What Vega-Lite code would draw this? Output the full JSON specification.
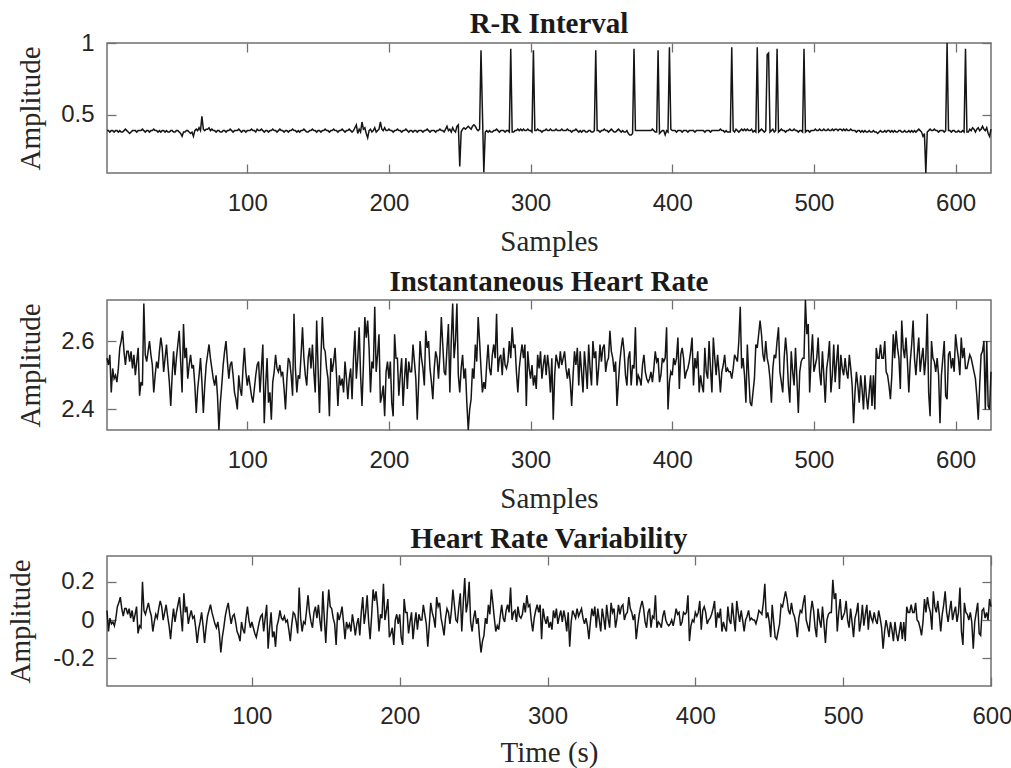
{"$schema":"https://vega.github.io/schema/vega-lite/v6.json","background":"white","padding":{"left":5,"top":9,"right":0,"bottom":0},"spacing":10,
"config":{"view":{"stroke":"#707070","strokeWidth":1.5},
"axis":{"domain":false,"grid":false,"tickSize":-9,"tickColor":"#707070","tickWidth":1.3,"labelFont":"Liberation Sans","labelFontSize":24,"labelColor":"#262626","titleFont":"Liberation Serif","titleFontSize":29,"titleFontWeight":"normal","titleColor":"#262626"},
"axisX":{"labelPadding":27,"titleY":77,"titleBaseline":"alphabetic","labelFlush":1,"labelFlushOffset":21},
"axisY":{"labelPadding":22,"labelExpr":"''+datum.value"},
"title":{"font":"Liberation Serif","fontSize":29,"fontWeight":"bold","color":"#1a1a1a","baseline":"alphabetic","anchor":"middle"},
"line":{"color":"#151515","strokeWidth":1.5,"clip":true}},
"datasets":{
"rr":[{"x":1,"y":0.39},{"x":2,"y":0.39},{"x":3,"y":0.38},{"x":4,"y":0.39},{"x":5,"y":0.39},{"x":6,"y":0.38},{"x":7,"y":0.39},{"x":8,"y":0.39},{"x":9,"y":0.38},{"x":10,"y":0.39},{"x":11,"y":0.38},{"x":12,"y":0.38},{"x":13,"y":0.39},{"x":14,"y":0.40},{"x":15,"y":0.39},{"x":16,"y":0.38},{"x":17,"y":0.37},{"x":18,"y":0.38},{"x":19,"y":0.39},{"x":20,"y":0.39},{"x":21,"y":0.39},{"x":22,"y":0.38},{"x":23,"y":0.39},{"x":24,"y":0.39},{"x":25,"y":0.39},{"x":26,"y":0.40},{"x":27,"y":0.39},{"x":28,"y":0.38},{"x":29,"y":0.39},{"x":30,"y":0.39},{"x":31,"y":0.38},{"x":32,"y":0.39},{"x":33,"y":0.39},{"x":34,"y":0.40},{"x":35,"y":0.39},{"x":36,"y":0.39},{"x":37,"y":0.38},{"x":38,"y":0.39},{"x":39,"y":0.38},{"x":40,"y":0.39},{"x":41,"y":0.39},{"x":42,"y":0.38},{"x":43,"y":0.39},{"x":44,"y":0.38},{"x":45,"y":0.38},{"x":46,"y":0.39},{"x":47,"y":0.39},{"x":48,"y":0.38},{"x":49,"y":0.38},{"x":50,"y":0.39},{"x":51,"y":0.39},{"x":52,"y":0.38},{"x":53,"y":0.37},{"x":54,"y":0.35},{"x":55,"y":0.38},{"x":56,"y":0.38},{"x":57,"y":0.39},{"x":58,"y":0.39},{"x":59,"y":0.38},{"x":60,"y":0.37},{"x":61,"y":0.38},{"x":62,"y":0.35},{"x":63,"y":0.39},{"x":64,"y":0.40},{"x":65,"y":0.39},{"x":66,"y":0.41},{"x":67,"y":0.39},{"x":68,"y":0.49},{"x":69,"y":0.40},{"x":70,"y":0.39},{"x":71,"y":0.40},{"x":72,"y":0.40},{"x":73,"y":0.41},{"x":74,"y":0.39},{"x":75,"y":0.40},{"x":76,"y":0.39},{"x":77,"y":0.39},{"x":78,"y":0.38},{"x":79,"y":0.39},{"x":80,"y":0.39},{"x":81,"y":0.38},{"x":82,"y":0.38},{"x":83,"y":0.39},{"x":84,"y":0.39},{"x":85,"y":0.38},{"x":86,"y":0.39},{"x":87,"y":0.39},{"x":88,"y":0.40},{"x":89,"y":0.39},{"x":90,"y":0.38},{"x":91,"y":0.39},{"x":92,"y":0.39},{"x":93,"y":0.39},{"x":94,"y":0.40},{"x":95,"y":0.39},{"x":96,"y":0.38},{"x":97,"y":0.39},{"x":98,"y":0.39},{"x":99,"y":0.38},{"x":100,"y":0.39},{"x":101,"y":0.39},{"x":102,"y":0.39},{"x":103,"y":0.40},{"x":104,"y":0.39},{"x":105,"y":0.39},{"x":106,"y":0.38},{"x":107,"y":0.40},{"x":108,"y":0.39},{"x":109,"y":0.39},{"x":110,"y":0.40},{"x":111,"y":0.39},{"x":112,"y":0.38},{"x":113,"y":0.39},{"x":114,"y":0.39},{"x":115,"y":0.38},{"x":116,"y":0.39},{"x":117,"y":0.39},{"x":118,"y":0.40},{"x":119,"y":0.39},{"x":120,"y":0.39},{"x":121,"y":0.38},{"x":122,"y":0.39},{"x":123,"y":0.40},{"x":124,"y":0.39},{"x":125,"y":0.39},{"x":126,"y":0.38},{"x":127,"y":0.39},{"x":128,"y":0.39},{"x":129,"y":0.38},{"x":130,"y":0.39},{"x":131,"y":0.39},{"x":132,"y":0.40},{"x":133,"y":0.39},{"x":134,"y":0.39},{"x":135,"y":0.38},{"x":136,"y":0.39},{"x":137,"y":0.38},{"x":138,"y":0.39},{"x":139,"y":0.39},{"x":140,"y":0.40},{"x":141,"y":0.39},{"x":142,"y":0.38},{"x":143,"y":0.38},{"x":144,"y":0.39},{"x":145,"y":0.39},{"x":146,"y":0.40},{"x":147,"y":0.39},{"x":148,"y":0.39},{"x":149,"y":0.38},{"x":150,"y":0.39},{"x":151,"y":0.39},{"x":152,"y":0.38},{"x":153,"y":0.39},{"x":154,"y":0.39},{"x":155,"y":0.40},{"x":156,"y":0.39},{"x":157,"y":0.39},{"x":158,"y":0.38},{"x":159,"y":0.39},{"x":160,"y":0.39},{"x":161,"y":0.40},{"x":162,"y":0.39},{"x":163,"y":0.39},{"x":164,"y":0.38},{"x":165,"y":0.39},{"x":166,"y":0.39},{"x":167,"y":0.40},{"x":168,"y":0.39},{"x":169,"y":0.38},{"x":170,"y":0.39},{"x":171,"y":0.39},{"x":172,"y":0.40},{"x":173,"y":0.39},{"x":174,"y":0.38},{"x":175,"y":0.39},{"x":176,"y":0.41},{"x":177,"y":0.43},{"x":178,"y":0.37},{"x":179,"y":0.40},{"x":180,"y":0.38},{"x":181,"y":0.45},{"x":182,"y":0.40},{"x":183,"y":0.41},{"x":184,"y":0.37},{"x":185,"y":0.34},{"x":186,"y":0.39},{"x":187,"y":0.40},{"x":188,"y":0.38},{"x":189,"y":0.39},{"x":190,"y":0.41},{"x":191,"y":0.38},{"x":192,"y":0.39},{"x":193,"y":0.40},{"x":194,"y":0.45},{"x":195,"y":0.40},{"x":196,"y":0.39},{"x":197,"y":0.41},{"x":198,"y":0.39},{"x":199,"y":0.39},{"x":200,"y":0.40},{"x":201,"y":0.39},{"x":202,"y":0.39},{"x":203,"y":0.38},{"x":204,"y":0.39},{"x":205,"y":0.39},{"x":206,"y":0.40},{"x":207,"y":0.39},{"x":208,"y":0.39},{"x":209,"y":0.38},{"x":210,"y":0.39},{"x":211,"y":0.39},{"x":212,"y":0.40},{"x":213,"y":0.39},{"x":214,"y":0.38},{"x":215,"y":0.39},{"x":216,"y":0.39},{"x":217,"y":0.38},{"x":218,"y":0.39},{"x":219,"y":0.39},{"x":220,"y":0.38},{"x":221,"y":0.39},{"x":222,"y":0.39},{"x":223,"y":0.39},{"x":224,"y":0.38},{"x":225,"y":0.39},{"x":226,"y":0.39},{"x":227,"y":0.40},{"x":228,"y":0.39},{"x":229,"y":0.38},{"x":230,"y":0.39},{"x":231,"y":0.39},{"x":232,"y":0.39},{"x":233,"y":0.38},{"x":234,"y":0.39},{"x":235,"y":0.39},{"x":236,"y":0.40},{"x":237,"y":0.39},{"x":238,"y":0.39},{"x":239,"y":0.38},{"x":240,"y":0.40},{"x":241,"y":0.42},{"x":242,"y":0.39},{"x":243,"y":0.40},{"x":244,"y":0.38},{"x":245,"y":0.41},{"x":246,"y":0.39},{"x":247,"y":0.38},{"x":248,"y":0.42},{"x":249,"y":0.43},{"x":250,"y":0.14},{"x":251,"y":0.38},{"x":252,"y":0.40},{"x":253,"y":0.41},{"x":254,"y":0.40},{"x":255,"y":0.41},{"x":256,"y":0.42},{"x":257,"y":0.41},{"x":258,"y":0.40},{"x":259,"y":0.42},{"x":260,"y":0.43},{"x":261,"y":0.42},{"x":262,"y":0.40},{"x":263,"y":0.39},{"x":264,"y":0.40},{"x":265,"y":0.95},{"x":266,"y":0.52},{"x":267,"y":0.1},{"x":268,"y":0.38},{"x":269,"y":0.39},{"x":270,"y":0.38},{"x":271,"y":0.39},{"x":272,"y":0.38},{"x":273,"y":0.38},{"x":274,"y":0.39},{"x":275,"y":0.39},{"x":276,"y":0.40},{"x":277,"y":0.39},{"x":278,"y":0.38},{"x":279,"y":0.39},{"x":280,"y":0.39},{"x":281,"y":0.39},{"x":282,"y":0.38},{"x":283,"y":0.39},{"x":284,"y":0.39},{"x":285,"y":0.38},{"x":286,"y":0.96},{"x":287,"y":0.38},{"x":288,"y":0.38},{"x":289,"y":0.39},{"x":290,"y":0.39},{"x":291,"y":0.40},{"x":292,"y":0.39},{"x":293,"y":0.40},{"x":294,"y":0.39},{"x":295,"y":0.40},{"x":296,"y":0.39},{"x":297,"y":0.39},{"x":298,"y":0.40},{"x":299,"y":0.39},{"x":300,"y":0.39},{"x":301,"y":0.38},{"x":302,"y":0.95},{"x":303,"y":0.39},{"x":304,"y":0.39},{"x":305,"y":0.40},{"x":306,"y":0.39},{"x":307,"y":0.39},{"x":308,"y":0.38},{"x":309,"y":0.39},{"x":310,"y":0.39},{"x":311,"y":0.40},{"x":312,"y":0.39},{"x":313,"y":0.39},{"x":314,"y":0.40},{"x":315,"y":0.39},{"x":316,"y":0.39},{"x":317,"y":0.39},{"x":318,"y":0.40},{"x":319,"y":0.39},{"x":320,"y":0.39},{"x":321,"y":0.39},{"x":322,"y":0.40},{"x":323,"y":0.39},{"x":324,"y":0.39},{"x":325,"y":0.39},{"x":326,"y":0.40},{"x":327,"y":0.39},{"x":328,"y":0.39},{"x":329,"y":0.38},{"x":330,"y":0.39},{"x":331,"y":0.39},{"x":332,"y":0.40},{"x":333,"y":0.39},{"x":334,"y":0.38},{"x":335,"y":0.39},{"x":336,"y":0.38},{"x":337,"y":0.39},{"x":338,"y":0.39},{"x":339,"y":0.38},{"x":340,"y":0.38},{"x":341,"y":0.39},{"x":342,"y":0.39},{"x":343,"y":0.38},{"x":344,"y":0.38},{"x":345,"y":0.39},{"x":346,"y":0.95},{"x":347,"y":0.39},{"x":348,"y":0.39},{"x":349,"y":0.38},{"x":350,"y":0.39},{"x":351,"y":0.39},{"x":352,"y":0.40},{"x":353,"y":0.39},{"x":354,"y":0.39},{"x":355,"y":0.38},{"x":356,"y":0.39},{"x":357,"y":0.40},{"x":358,"y":0.39},{"x":359,"y":0.38},{"x":360,"y":0.38},{"x":361,"y":0.39},{"x":362,"y":0.40},{"x":363,"y":0.39},{"x":364,"y":0.38},{"x":365,"y":0.39},{"x":366,"y":0.38},{"x":367,"y":0.38},{"x":368,"y":0.39},{"x":369,"y":0.37},{"x":370,"y":0.36},{"x":371,"y":0.36},{"x":372,"y":0.37},{"x":373,"y":0.96},{"x":374,"y":0.39},{"x":375,"y":0.39},{"x":376,"y":0.39},{"x":377,"y":0.39},{"x":378,"y":0.39},{"x":379,"y":0.39},{"x":380,"y":0.39},{"x":381,"y":0.39},{"x":382,"y":0.39},{"x":383,"y":0.39},{"x":384,"y":0.39},{"x":385,"y":0.39},{"x":386,"y":0.40},{"x":387,"y":0.39},{"x":388,"y":0.38},{"x":389,"y":0.38},{"x":390,"y":0.95},{"x":391,"y":0.37},{"x":392,"y":0.38},{"x":393,"y":0.39},{"x":394,"y":0.39},{"x":395,"y":0.36},{"x":396,"y":0.39},{"x":397,"y":0.38},{"x":398,"y":0.97},{"x":399,"y":0.40},{"x":400,"y":0.39},{"x":401,"y":0.39},{"x":402,"y":0.39},{"x":403,"y":0.38},{"x":404,"y":0.39},{"x":405,"y":0.39},{"x":406,"y":0.39},{"x":407,"y":0.38},{"x":408,"y":0.39},{"x":409,"y":0.39},{"x":410,"y":0.39},{"x":411,"y":0.38},{"x":412,"y":0.39},{"x":413,"y":0.39},{"x":414,"y":0.39},{"x":415,"y":0.39},{"x":416,"y":0.38},{"x":417,"y":0.39},{"x":418,"y":0.39},{"x":419,"y":0.39},{"x":420,"y":0.39},{"x":421,"y":0.39},{"x":422,"y":0.39},{"x":423,"y":0.38},{"x":424,"y":0.39},{"x":425,"y":0.39},{"x":426,"y":0.39},{"x":427,"y":0.38},{"x":428,"y":0.39},{"x":429,"y":0.39},{"x":430,"y":0.39},{"x":431,"y":0.39},{"x":432,"y":0.39},{"x":433,"y":0.39},{"x":434,"y":0.40},{"x":435,"y":0.39},{"x":436,"y":0.39},{"x":437,"y":0.38},{"x":438,"y":0.39},{"x":439,"y":0.38},{"x":440,"y":0.38},{"x":441,"y":0.38},{"x":442,"y":0.97},{"x":443,"y":0.39},{"x":444,"y":0.38},{"x":445,"y":0.40},{"x":446,"y":0.39},{"x":447,"y":0.38},{"x":448,"y":0.39},{"x":449,"y":0.40},{"x":450,"y":0.39},{"x":451,"y":0.40},{"x":452,"y":0.39},{"x":453,"y":0.40},{"x":454,"y":0.39},{"x":455,"y":0.39},{"x":456,"y":0.40},{"x":457,"y":0.38},{"x":458,"y":0.39},{"x":459,"y":0.38},{"x":460,"y":0.97},{"x":461,"y":0.38},{"x":462,"y":0.39},{"x":463,"y":0.40},{"x":464,"y":0.39},{"x":465,"y":0.38},{"x":466,"y":0.39},{"x":467,"y":0.92},{"x":468,"y":0.93},{"x":469,"y":0.38},{"x":470,"y":0.39},{"x":471,"y":0.40},{"x":472,"y":0.38},{"x":473,"y":0.39},{"x":474,"y":0.96},{"x":475,"y":0.38},{"x":476,"y":0.39},{"x":477,"y":0.40},{"x":478,"y":0.39},{"x":479,"y":0.39},{"x":480,"y":0.38},{"x":481,"y":0.39},{"x":482,"y":0.39},{"x":483,"y":0.40},{"x":484,"y":0.39},{"x":485,"y":0.39},{"x":486,"y":0.40},{"x":487,"y":0.39},{"x":488,"y":0.39},{"x":489,"y":0.38},{"x":490,"y":0.39},{"x":491,"y":0.39},{"x":492,"y":0.38},{"x":493,"y":0.96},{"x":494,"y":0.38},{"x":495,"y":0.39},{"x":496,"y":0.39},{"x":497,"y":0.38},{"x":498,"y":0.39},{"x":499,"y":0.39},{"x":500,"y":0.39},{"x":501,"y":0.40},{"x":502,"y":0.39},{"x":503,"y":0.39},{"x":504,"y":0.40},{"x":505,"y":0.39},{"x":506,"y":0.39},{"x":507,"y":0.40},{"x":508,"y":0.39},{"x":509,"y":0.39},{"x":510,"y":0.40},{"x":511,"y":0.39},{"x":512,"y":0.39},{"x":513,"y":0.40},{"x":514,"y":0.39},{"x":515,"y":0.40},{"x":516,"y":0.40},{"x":517,"y":0.39},{"x":518,"y":0.40},{"x":519,"y":0.40},{"x":520,"y":0.39},{"x":521,"y":0.40},{"x":522,"y":0.39},{"x":523,"y":0.40},{"x":524,"y":0.39},{"x":525,"y":0.39},{"x":526,"y":0.40},{"x":527,"y":0.39},{"x":528,"y":0.39},{"x":529,"y":0.39},{"x":530,"y":0.38},{"x":531,"y":0.39},{"x":532,"y":0.39},{"x":533,"y":0.38},{"x":534,"y":0.39},{"x":535,"y":0.38},{"x":536,"y":0.39},{"x":537,"y":0.38},{"x":538,"y":0.38},{"x":539,"y":0.39},{"x":540,"y":0.38},{"x":541,"y":0.38},{"x":542,"y":0.39},{"x":543,"y":0.38},{"x":544,"y":0.38},{"x":545,"y":0.37},{"x":546,"y":0.38},{"x":547,"y":0.39},{"x":548,"y":0.38},{"x":549,"y":0.38},{"x":550,"y":0.39},{"x":551,"y":0.38},{"x":552,"y":0.39},{"x":553,"y":0.39},{"x":554,"y":0.38},{"x":555,"y":0.39},{"x":556,"y":0.38},{"x":557,"y":0.39},{"x":558,"y":0.38},{"x":559,"y":0.38},{"x":560,"y":0.39},{"x":561,"y":0.39},{"x":562,"y":0.38},{"x":563,"y":0.38},{"x":564,"y":0.39},{"x":565,"y":0.38},{"x":566,"y":0.38},{"x":567,"y":0.39},{"x":568,"y":0.38},{"x":569,"y":0.39},{"x":570,"y":0.38},{"x":571,"y":0.39},{"x":572,"y":0.38},{"x":573,"y":0.39},{"x":574,"y":0.40},{"x":575,"y":0.39},{"x":576,"y":0.38},{"x":577,"y":0.35},{"x":578,"y":0.37},{"x":579,"y":0.095},{"x":580,"y":0.38},{"x":581,"y":0.39},{"x":582,"y":0.40},{"x":583,"y":0.39},{"x":584,"y":0.39},{"x":585,"y":0.40},{"x":586,"y":0.39},{"x":587,"y":0.39},{"x":588,"y":0.38},{"x":589,"y":0.39},{"x":590,"y":0.39},{"x":591,"y":0.39},{"x":592,"y":0.38},{"x":593,"y":0.39},{"x":594,"y":1.0},{"x":595,"y":0.39},{"x":596,"y":0.39},{"x":597,"y":0.38},{"x":598,"y":0.39},{"x":599,"y":0.39},{"x":600,"y":0.38},{"x":601,"y":0.38},{"x":602,"y":0.39},{"x":603,"y":0.38},{"x":604,"y":0.38},{"x":605,"y":0.39},{"x":606,"y":0.38},{"x":607,"y":0.96},{"x":608,"y":0.38},{"x":609,"y":0.38},{"x":610,"y":0.40},{"x":611,"y":0.39},{"x":612,"y":0.41},{"x":613,"y":0.40},{"x":614,"y":0.38},{"x":615,"y":0.40},{"x":616,"y":0.41},{"x":617,"y":0.39},{"x":618,"y":0.40},{"x":619,"y":0.42},{"x":620,"y":0.40},{"x":621,"y":0.39},{"x":622,"y":0.41},{"x":623,"y":0.37},{"x":624,"y":0.35},{"x":625,"y":0.40}],
"ihr":[{"x":1,"y":2.55},{"x":2,"y":2.53},{"x":3,"y":2.56},{"x":4,"y":2.45},{"x":5,"y":2.52},{"x":6,"y":2.49},{"x":7,"y":2.50},{"x":8,"y":2.48},{"x":9,"y":2.52},{"x":10,"y":2.58},{"x":11,"y":2.60},{"x":12,"y":2.63},{"x":13,"y":2.57},{"x":14,"y":2.53},{"x":15,"y":2.57},{"x":16,"y":2.57},{"x":17,"y":2.54},{"x":18,"y":2.57},{"x":19,"y":2.52},{"x":20,"y":2.56},{"x":21,"y":2.50},{"x":22,"y":2.54},{"x":23,"y":2.58},{"x":24,"y":2.44},{"x":25,"y":2.48},{"x":26,"y":2.47},{"x":27,"y":2.71},{"x":28,"y":2.56},{"x":29,"y":2.54},{"x":30,"y":2.57},{"x":31,"y":2.60},{"x":32,"y":2.56},{"x":33,"y":2.53},{"x":34,"y":2.45},{"x":35,"y":2.50},{"x":36,"y":2.54},{"x":37,"y":2.52},{"x":38,"y":2.57},{"x":39,"y":2.61},{"x":40,"y":2.58},{"x":41,"y":2.51},{"x":42,"y":2.55},{"x":43,"y":2.59},{"x":44,"y":2.53},{"x":45,"y":2.48},{"x":46,"y":2.41},{"x":47,"y":2.50},{"x":48,"y":2.57},{"x":49,"y":2.50},{"x":50,"y":2.55},{"x":51,"y":2.59},{"x":52,"y":2.63},{"x":53,"y":2.54},{"x":54,"y":2.45},{"x":55,"y":2.65},{"x":56,"y":2.55},{"x":57,"y":2.58},{"x":58,"y":2.49},{"x":59,"y":2.53},{"x":60,"y":2.56},{"x":61,"y":2.52},{"x":62,"y":2.53},{"x":63,"y":2.47},{"x":64,"y":2.39},{"x":65,"y":2.46},{"x":66,"y":2.50},{"x":67,"y":2.55},{"x":68,"y":2.48},{"x":69,"y":2.39},{"x":70,"y":2.47},{"x":71,"y":2.53},{"x":72,"y":2.56},{"x":73,"y":2.59},{"x":74,"y":2.55},{"x":75,"y":2.52},{"x":76,"y":2.49},{"x":77,"y":2.47},{"x":78,"y":2.50},{"x":79,"y":2.44},{"x":80,"y":2.34},{"x":81,"y":2.42},{"x":82,"y":2.47},{"x":83,"y":2.53},{"x":84,"y":2.57},{"x":85,"y":2.60},{"x":86,"y":2.54},{"x":87,"y":2.49},{"x":88,"y":2.53},{"x":89,"y":2.54},{"x":90,"y":2.50},{"x":91,"y":2.45},{"x":92,"y":2.43},{"x":93,"y":2.40},{"x":94,"y":2.50},{"x":95,"y":2.46},{"x":96,"y":2.44},{"x":97,"y":2.52},{"x":98,"y":2.58},{"x":99,"y":2.51},{"x":100,"y":2.47},{"x":101,"y":2.50},{"x":102,"y":2.47},{"x":103,"y":2.44},{"x":104,"y":2.42},{"x":105,"y":2.46},{"x":106,"y":2.50},{"x":107,"y":2.53},{"x":108,"y":2.54},{"x":109,"y":2.45},{"x":110,"y":2.52},{"x":111,"y":2.59},{"x":112,"y":2.36},{"x":113,"y":2.47},{"x":114,"y":2.55},{"x":115,"y":2.42},{"x":116,"y":2.45},{"x":117,"y":2.37},{"x":118,"y":2.48},{"x":119,"y":2.51},{"x":120,"y":2.56},{"x":121,"y":2.52},{"x":122,"y":2.51},{"x":123,"y":2.53},{"x":124,"y":2.50},{"x":125,"y":2.51},{"x":126,"y":2.46},{"x":127,"y":2.40},{"x":128,"y":2.49},{"x":129,"y":2.55},{"x":130,"y":2.54},{"x":131,"y":2.50},{"x":132,"y":2.44},{"x":133,"y":2.68},{"x":134,"y":2.52},{"x":135,"y":2.45},{"x":136,"y":2.50},{"x":137,"y":2.49},{"x":138,"y":2.56},{"x":139,"y":2.64},{"x":140,"y":2.55},{"x":141,"y":2.50},{"x":142,"y":2.47},{"x":143,"y":2.55},{"x":144,"y":2.58},{"x":145,"y":2.52},{"x":146,"y":2.59},{"x":147,"y":2.51},{"x":148,"y":2.45},{"x":149,"y":2.66},{"x":150,"y":2.52},{"x":151,"y":2.39},{"x":152,"y":2.55},{"x":153,"y":2.67},{"x":154,"y":2.58},{"x":155,"y":2.57},{"x":156,"y":2.52},{"x":157,"y":2.49},{"x":158,"y":2.38},{"x":159,"y":2.55},{"x":160,"y":2.51},{"x":161,"y":2.54},{"x":162,"y":2.58},{"x":163,"y":2.50},{"x":164,"y":2.41},{"x":165,"y":2.50},{"x":166,"y":2.47},{"x":167,"y":2.49},{"x":168,"y":2.45},{"x":169,"y":2.54},{"x":170,"y":2.49},{"x":171,"y":2.43},{"x":172,"y":2.49},{"x":173,"y":2.52},{"x":174,"y":2.43},{"x":175,"y":2.55},{"x":176,"y":2.63},{"x":177,"y":2.49},{"x":178,"y":2.55},{"x":179,"y":2.64},{"x":180,"y":2.50},{"x":181,"y":2.41},{"x":182,"y":2.53},{"x":183,"y":2.67},{"x":184,"y":2.61},{"x":185,"y":2.66},{"x":186,"y":2.58},{"x":187,"y":2.45},{"x":188,"y":2.54},{"x":189,"y":2.52},{"x":190,"y":2.70},{"x":191,"y":2.51},{"x":192,"y":2.56},{"x":193,"y":2.62},{"x":194,"y":2.42},{"x":195,"y":2.44},{"x":196,"y":2.47},{"x":197,"y":2.38},{"x":198,"y":2.51},{"x":199,"y":2.54},{"x":200,"y":2.49},{"x":201,"y":2.54},{"x":202,"y":2.42},{"x":203,"y":2.38},{"x":204,"y":2.62},{"x":205,"y":2.55},{"x":206,"y":2.55},{"x":207,"y":2.44},{"x":208,"y":2.50},{"x":209,"y":2.55},{"x":210,"y":2.41},{"x":211,"y":2.49},{"x":212,"y":2.55},{"x":213,"y":2.46},{"x":214,"y":2.54},{"x":215,"y":2.51},{"x":216,"y":2.51},{"x":217,"y":2.59},{"x":218,"y":2.54},{"x":219,"y":2.49},{"x":220,"y":2.37},{"x":221,"y":2.48},{"x":222,"y":2.60},{"x":223,"y":2.55},{"x":224,"y":2.52},{"x":225,"y":2.47},{"x":226,"y":2.63},{"x":227,"y":2.58},{"x":228,"y":2.60},{"x":229,"y":2.52},{"x":230,"y":2.48},{"x":231,"y":2.43},{"x":232,"y":2.52},{"x":233,"y":2.57},{"x":234,"y":2.55},{"x":235,"y":2.49},{"x":236,"y":2.56},{"x":237,"y":2.67},{"x":238,"y":2.59},{"x":239,"y":2.51},{"x":240,"y":2.50},{"x":241,"y":2.58},{"x":242,"y":2.65},{"x":243,"y":2.45},{"x":244,"y":2.60},{"x":245,"y":2.71},{"x":246,"y":2.55},{"x":247,"y":2.60},{"x":248,"y":2.71},{"x":249,"y":2.50},{"x":250,"y":2.45},{"x":251,"y":2.52},{"x":252,"y":2.56},{"x":253,"y":2.49},{"x":254,"y":2.52},{"x":255,"y":2.42},{"x":256,"y":2.34},{"x":257,"y":2.40},{"x":258,"y":2.43},{"x":259,"y":2.52},{"x":260,"y":2.49},{"x":261,"y":2.59},{"x":262,"y":2.54},{"x":263,"y":2.67},{"x":264,"y":2.60},{"x":265,"y":2.52},{"x":266,"y":2.45},{"x":267,"y":2.48},{"x":268,"y":2.46},{"x":269,"y":2.53},{"x":270,"y":2.59},{"x":271,"y":2.52},{"x":272,"y":2.50},{"x":273,"y":2.56},{"x":274,"y":2.59},{"x":275,"y":2.55},{"x":276,"y":2.68},{"x":277,"y":2.51},{"x":278,"y":2.55},{"x":279,"y":2.56},{"x":280,"y":2.50},{"x":281,"y":2.58},{"x":282,"y":2.53},{"x":283,"y":2.52},{"x":284,"y":2.54},{"x":285,"y":2.60},{"x":286,"y":2.55},{"x":287,"y":2.64},{"x":288,"y":2.58},{"x":289,"y":2.59},{"x":290,"y":2.51},{"x":291,"y":2.45},{"x":292,"y":2.52},{"x":293,"y":2.56},{"x":294,"y":2.59},{"x":295,"y":2.55},{"x":296,"y":2.59},{"x":297,"y":2.41},{"x":298,"y":2.57},{"x":299,"y":2.52},{"x":300,"y":2.49},{"x":301,"y":2.53},{"x":302,"y":2.47},{"x":303,"y":2.50},{"x":304,"y":2.46},{"x":305,"y":2.56},{"x":306,"y":2.52},{"x":307,"y":2.57},{"x":308,"y":2.49},{"x":309,"y":2.53},{"x":310,"y":2.56},{"x":311,"y":2.50},{"x":312,"y":2.56},{"x":313,"y":2.52},{"x":314,"y":2.45},{"x":315,"y":2.55},{"x":316,"y":2.37},{"x":317,"y":2.50},{"x":318,"y":2.56},{"x":319,"y":2.54},{"x":320,"y":2.52},{"x":321,"y":2.57},{"x":322,"y":2.53},{"x":323,"y":2.55},{"x":324,"y":2.57},{"x":325,"y":2.52},{"x":326,"y":2.49},{"x":327,"y":2.52},{"x":328,"y":2.48},{"x":329,"y":2.41},{"x":330,"y":2.50},{"x":331,"y":2.57},{"x":332,"y":2.53},{"x":333,"y":2.58},{"x":334,"y":2.47},{"x":335,"y":2.57},{"x":336,"y":2.51},{"x":337,"y":2.45},{"x":338,"y":2.57},{"x":339,"y":2.52},{"x":340,"y":2.46},{"x":341,"y":2.59},{"x":342,"y":2.52},{"x":343,"y":2.47},{"x":344,"y":2.60},{"x":345,"y":2.55},{"x":346,"y":2.57},{"x":347,"y":2.47},{"x":348,"y":2.52},{"x":349,"y":2.59},{"x":350,"y":2.54},{"x":351,"y":2.58},{"x":352,"y":2.59},{"x":353,"y":2.51},{"x":354,"y":2.54},{"x":355,"y":2.55},{"x":356,"y":2.63},{"x":357,"y":2.57},{"x":358,"y":2.55},{"x":359,"y":2.51},{"x":360,"y":2.54},{"x":361,"y":2.41},{"x":362,"y":2.48},{"x":363,"y":2.54},{"x":364,"y":2.58},{"x":365,"y":2.61},{"x":366,"y":2.57},{"x":367,"y":2.50},{"x":368,"y":2.47},{"x":369,"y":2.55},{"x":370,"y":2.57},{"x":371,"y":2.47},{"x":372,"y":2.53},{"x":373,"y":2.52},{"x":374,"y":2.64},{"x":375,"y":2.47},{"x":376,"y":2.50},{"x":377,"y":2.49},{"x":378,"y":2.47},{"x":379,"y":2.53},{"x":380,"y":2.56},{"x":381,"y":2.51},{"x":382,"y":2.49},{"x":383,"y":2.48},{"x":384,"y":2.49},{"x":385,"y":2.51},{"x":386,"y":2.48},{"x":387,"y":2.52},{"x":388,"y":2.57},{"x":389,"y":2.54},{"x":390,"y":2.55},{"x":391,"y":2.48},{"x":392,"y":2.50},{"x":393,"y":2.55},{"x":394,"y":2.54},{"x":395,"y":2.55},{"x":396,"y":2.64},{"x":397,"y":2.40},{"x":398,"y":2.48},{"x":399,"y":2.51},{"x":400,"y":2.50},{"x":401,"y":2.55},{"x":402,"y":2.53},{"x":403,"y":2.55},{"x":404,"y":2.61},{"x":405,"y":2.46},{"x":406,"y":2.56},{"x":407,"y":2.58},{"x":408,"y":2.55},{"x":409,"y":2.49},{"x":410,"y":2.51},{"x":411,"y":2.52},{"x":412,"y":2.54},{"x":413,"y":2.57},{"x":414,"y":2.61},{"x":415,"y":2.47},{"x":416,"y":2.55},{"x":417,"y":2.52},{"x":418,"y":2.57},{"x":419,"y":2.45},{"x":420,"y":2.50},{"x":421,"y":2.47},{"x":422,"y":2.45},{"x":423,"y":2.58},{"x":424,"y":2.51},{"x":425,"y":2.49},{"x":426,"y":2.60},{"x":427,"y":2.52},{"x":428,"y":2.45},{"x":429,"y":2.61},{"x":430,"y":2.55},{"x":431,"y":2.50},{"x":432,"y":2.56},{"x":433,"y":2.51},{"x":434,"y":2.45},{"x":435,"y":2.51},{"x":436,"y":2.53},{"x":437,"y":2.56},{"x":438,"y":2.51},{"x":439,"y":2.52},{"x":440,"y":2.51},{"x":441,"y":2.51},{"x":442,"y":2.49},{"x":443,"y":2.52},{"x":444,"y":2.56},{"x":445,"y":2.55},{"x":446,"y":2.54},{"x":447,"y":2.60},{"x":448,"y":2.70},{"x":449,"y":2.52},{"x":450,"y":2.55},{"x":451,"y":2.50},{"x":452,"y":2.42},{"x":453,"y":2.59},{"x":454,"y":2.50},{"x":455,"y":2.42},{"x":456,"y":2.41},{"x":457,"y":2.45},{"x":458,"y":2.49},{"x":459,"y":2.59},{"x":460,"y":2.58},{"x":461,"y":2.62},{"x":462,"y":2.66},{"x":463,"y":2.62},{"x":464,"y":2.56},{"x":465,"y":2.54},{"x":466,"y":2.60},{"x":467,"y":2.55},{"x":468,"y":2.53},{"x":469,"y":2.49},{"x":470,"y":2.42},{"x":471,"y":2.52},{"x":472,"y":2.56},{"x":473,"y":2.55},{"x":474,"y":2.60},{"x":475,"y":2.64},{"x":476,"y":2.51},{"x":477,"y":2.48},{"x":478,"y":2.45},{"x":479,"y":2.55},{"x":480,"y":2.61},{"x":481,"y":2.56},{"x":482,"y":2.47},{"x":483,"y":2.42},{"x":484,"y":2.57},{"x":485,"y":2.51},{"x":486,"y":2.47},{"x":487,"y":2.58},{"x":488,"y":2.49},{"x":489,"y":2.39},{"x":490,"y":2.51},{"x":491,"y":2.54},{"x":492,"y":2.55},{"x":493,"y":2.55},{"x":494,"y":2.72},{"x":495,"y":2.62},{"x":496,"y":2.65},{"x":497,"y":2.45},{"x":498,"y":2.55},{"x":499,"y":2.62},{"x":500,"y":2.51},{"x":501,"y":2.53},{"x":502,"y":2.55},{"x":503,"y":2.61},{"x":504,"y":2.51},{"x":505,"y":2.47},{"x":506,"y":2.57},{"x":507,"y":2.50},{"x":508,"y":2.42},{"x":509,"y":2.52},{"x":510,"y":2.55},{"x":511,"y":2.60},{"x":512,"y":2.45},{"x":513,"y":2.50},{"x":514,"y":2.59},{"x":515,"y":2.48},{"x":516,"y":2.54},{"x":517,"y":2.59},{"x":518,"y":2.46},{"x":519,"y":2.56},{"x":520,"y":2.52},{"x":521,"y":2.50},{"x":522,"y":2.55},{"x":523,"y":2.51},{"x":524,"y":2.49},{"x":525,"y":2.56},{"x":526,"y":2.52},{"x":527,"y":2.47},{"x":528,"y":2.36},{"x":529,"y":2.45},{"x":530,"y":2.51},{"x":531,"y":2.47},{"x":532,"y":2.42},{"x":533,"y":2.50},{"x":534,"y":2.46},{"x":535,"y":2.40},{"x":536,"y":2.50},{"x":537,"y":2.44},{"x":538,"y":2.40},{"x":539,"y":2.45},{"x":540,"y":2.50},{"x":541,"y":2.41},{"x":542,"y":2.50},{"x":543,"y":2.40},{"x":544,"y":2.58},{"x":545,"y":2.55},{"x":546,"y":2.55},{"x":547,"y":2.59},{"x":548,"y":2.55},{"x":549,"y":2.55},{"x":550,"y":2.60},{"x":551,"y":2.51},{"x":552,"y":2.50},{"x":553,"y":2.47},{"x":554,"y":2.43},{"x":555,"y":2.50},{"x":556,"y":2.62},{"x":557,"y":2.55},{"x":558,"y":2.63},{"x":559,"y":2.58},{"x":560,"y":2.55},{"x":561,"y":2.46},{"x":562,"y":2.66},{"x":563,"y":2.58},{"x":564,"y":2.55},{"x":565,"y":2.61},{"x":566,"y":2.54},{"x":567,"y":2.45},{"x":568,"y":2.54},{"x":569,"y":2.59},{"x":570,"y":2.66},{"x":571,"y":2.55},{"x":572,"y":2.50},{"x":573,"y":2.56},{"x":574,"y":2.61},{"x":575,"y":2.51},{"x":576,"y":2.55},{"x":577,"y":2.58},{"x":578,"y":2.50},{"x":579,"y":2.55},{"x":580,"y":2.68},{"x":581,"y":2.45},{"x":582,"y":2.38},{"x":583,"y":2.60},{"x":584,"y":2.55},{"x":585,"y":2.54},{"x":586,"y":2.51},{"x":587,"y":2.55},{"x":588,"y":2.50},{"x":589,"y":2.36},{"x":590,"y":2.50},{"x":591,"y":2.55},{"x":592,"y":2.60},{"x":593,"y":2.44},{"x":594,"y":2.43},{"x":595,"y":2.56},{"x":596,"y":2.57},{"x":597,"y":2.52},{"x":598,"y":2.55},{"x":599,"y":2.51},{"x":600,"y":2.62},{"x":601,"y":2.58},{"x":602,"y":2.55},{"x":603,"y":2.50},{"x":604,"y":2.61},{"x":605,"y":2.55},{"x":606,"y":2.58},{"x":607,"y":2.52},{"x":608,"y":2.52},{"x":609,"y":2.54},{"x":610,"y":2.56},{"x":611,"y":2.55},{"x":612,"y":2.53},{"x":613,"y":2.51},{"x":614,"y":2.49},{"x":615,"y":2.44},{"x":616,"y":2.37},{"x":617,"y":2.47},{"x":618,"y":2.56},{"x":619,"y":2.57},{"x":620,"y":2.60},{"x":621,"y":2.40},{"x":622,"y":2.60},{"x":623,"y":2.41},{"x":624,"y":2.40},{"x":625,"y":2.51}],
"hrv":[{"x":2,"y":0.05},{"x":3,"y":-0.06},{"x":4,"y":0.01},{"x":5,"y":-0.02},{"x":6,"y":-0.01},{"x":7,"y":-0.03},{"x":8,"y":0.01},{"x":9,"y":0.07},{"x":10,"y":0.09},{"x":11,"y":0.12},{"x":12,"y":0.06},{"x":13,"y":0.02},{"x":14,"y":0.06},{"x":15,"y":0.06},{"x":16,"y":0.03},{"x":17,"y":0.06},{"x":18,"y":0.01},{"x":19,"y":0.05},{"x":20,"y":-0.01},{"x":21,"y":0.03},{"x":22,"y":0.07},{"x":23,"y":-0.07},{"x":24,"y":-0.03},{"x":25,"y":-0.04},{"x":26,"y":0.20},{"x":27,"y":0.05},{"x":28,"y":0.03},{"x":29,"y":0.06},{"x":30,"y":0.09},{"x":31,"y":0.05},{"x":32,"y":0.02},{"x":33,"y":-0.06},{"x":34,"y":-0.01},{"x":35,"y":0.03},{"x":36,"y":0.01},{"x":37,"y":0.06},{"x":38,"y":0.10},{"x":39,"y":0.07},{"x":40,"y":0.00},{"x":41,"y":0.04},{"x":42,"y":0.08},{"x":43,"y":0.02},{"x":44,"y":-0.03},{"x":45,"y":-0.10},{"x":46,"y":-0.01},{"x":47,"y":0.06},{"x":48,"y":-0.01},{"x":49,"y":0.04},{"x":50,"y":0.08},{"x":51,"y":0.12},{"x":52,"y":0.03},{"x":53,"y":-0.06},{"x":54,"y":0.14},{"x":55,"y":0.04},{"x":56,"y":0.07},{"x":57,"y":-0.02},{"x":58,"y":0.02},{"x":59,"y":0.05},{"x":60,"y":0.01},{"x":61,"y":0.02},{"x":62,"y":-0.04},{"x":63,"y":-0.12},{"x":64,"y":-0.05},{"x":65,"y":-0.01},{"x":66,"y":0.04},{"x":67,"y":-0.03},{"x":68,"y":-0.12},{"x":69,"y":-0.04},{"x":70,"y":0.02},{"x":71,"y":0.05},{"x":72,"y":0.08},{"x":73,"y":0.04},{"x":74,"y":0.01},{"x":75,"y":-0.02},{"x":76,"y":-0.04},{"x":77,"y":-0.01},{"x":78,"y":-0.07},{"x":79,"y":-0.17},{"x":80,"y":-0.09},{"x":81,"y":-0.04},{"x":82,"y":0.02},{"x":83,"y":0.06},{"x":84,"y":0.09},{"x":85,"y":0.03},{"x":86,"y":-0.02},{"x":87,"y":0.02},{"x":88,"y":0.03},{"x":89,"y":-0.01},{"x":90,"y":-0.06},{"x":91,"y":-0.08},{"x":92,"y":-0.11},{"x":93,"y":-0.01},{"x":94,"y":-0.05},{"x":95,"y":-0.07},{"x":96,"y":0.01},{"x":97,"y":0.07},{"x":98,"y":0.00},{"x":99,"y":-0.04},{"x":100,"y":-0.01},{"x":101,"y":-0.04},{"x":102,"y":-0.07},{"x":103,"y":-0.09},{"x":104,"y":-0.05},{"x":105,"y":-0.01},{"x":106,"y":0.02},{"x":107,"y":0.03},{"x":108,"y":-0.06},{"x":109,"y":0.01},{"x":110,"y":0.08},{"x":111,"y":-0.15},{"x":112,"y":-0.04},{"x":113,"y":0.04},{"x":114,"y":-0.09},{"x":115,"y":-0.06},{"x":116,"y":-0.14},{"x":117,"y":-0.03},{"x":118,"y":0.00},{"x":119,"y":0.05},{"x":120,"y":0.01},{"x":121,"y":0.00},{"x":122,"y":0.02},{"x":123,"y":-0.01},{"x":124,"y":0.00},{"x":125,"y":-0.05},{"x":126,"y":-0.11},{"x":127,"y":-0.02},{"x":128,"y":0.04},{"x":129,"y":0.03},{"x":130,"y":-0.01},{"x":131,"y":-0.07},{"x":132,"y":0.17},{"x":133,"y":0.01},{"x":134,"y":-0.06},{"x":135,"y":-0.01},{"x":136,"y":-0.02},{"x":137,"y":0.05},{"x":138,"y":0.13},{"x":139,"y":0.04},{"x":140,"y":-0.01},{"x":141,"y":-0.04},{"x":142,"y":0.04},{"x":143,"y":0.07},{"x":144,"y":0.01},{"x":145,"y":0.08},{"x":146,"y":0.00},{"x":147,"y":-0.06},{"x":148,"y":0.15},{"x":149,"y":0.01},{"x":150,"y":-0.12},{"x":151,"y":0.04},{"x":152,"y":0.16},{"x":153,"y":0.07},{"x":154,"y":0.06},{"x":155,"y":0.01},{"x":156,"y":-0.02},{"x":157,"y":-0.13},{"x":158,"y":0.04},{"x":159,"y":0.00},{"x":160,"y":0.03},{"x":161,"y":0.07},{"x":162,"y":-0.01},{"x":163,"y":-0.10},{"x":164,"y":-0.01},{"x":165,"y":-0.04},{"x":166,"y":-0.02},{"x":167,"y":-0.06},{"x":168,"y":0.03},{"x":169,"y":-0.02},{"x":170,"y":-0.08},{"x":171,"y":-0.02},{"x":172,"y":0.01},{"x":173,"y":-0.08},{"x":174,"y":0.04},{"x":175,"y":0.12},{"x":176,"y":-0.02},{"x":177,"y":0.04},{"x":178,"y":0.13},{"x":179,"y":-0.01},{"x":180,"y":-0.10},{"x":181,"y":0.02},{"x":182,"y":0.16},{"x":183,"y":0.10},{"x":184,"y":0.15},{"x":185,"y":0.07},{"x":186,"y":-0.06},{"x":187,"y":0.03},{"x":188,"y":0.01},{"x":189,"y":0.19},{"x":190,"y":0.00},{"x":191,"y":0.05},{"x":192,"y":0.11},{"x":193,"y":-0.09},{"x":194,"y":-0.07},{"x":195,"y":-0.04},{"x":196,"y":-0.13},{"x":197,"y":0.00},{"x":198,"y":0.03},{"x":199,"y":-0.02},{"x":200,"y":0.03},{"x":201,"y":-0.09},{"x":202,"y":-0.13},{"x":203,"y":0.11},{"x":204,"y":0.04},{"x":205,"y":0.04},{"x":206,"y":-0.07},{"x":207,"y":-0.01},{"x":208,"y":0.04},{"x":209,"y":-0.10},{"x":210,"y":-0.02},{"x":211,"y":0.04},{"x":212,"y":-0.05},{"x":213,"y":0.03},{"x":214,"y":0.00},{"x":215,"y":0.00},{"x":216,"y":0.08},{"x":217,"y":0.03},{"x":218,"y":-0.02},{"x":219,"y":-0.14},{"x":220,"y":-0.03},{"x":221,"y":0.09},{"x":222,"y":0.04},{"x":223,"y":0.01},{"x":224,"y":-0.04},{"x":225,"y":0.12},{"x":226,"y":0.07},{"x":227,"y":0.09},{"x":228,"y":0.01},{"x":229,"y":-0.03},{"x":230,"y":-0.08},{"x":231,"y":0.01},{"x":232,"y":0.06},{"x":233,"y":0.04},{"x":234,"y":-0.02},{"x":235,"y":0.05},{"x":236,"y":0.16},{"x":237,"y":0.08},{"x":238,"y":0.00},{"x":239,"y":-0.01},{"x":240,"y":0.07},{"x":241,"y":0.14},{"x":242,"y":-0.06},{"x":243,"y":0.09},{"x":244,"y":0.22},{"x":245,"y":0.04},{"x":246,"y":0.09},{"x":247,"y":0.20},{"x":248,"y":-0.01},{"x":249,"y":-0.06},{"x":250,"y":0.01},{"x":251,"y":0.05},{"x":252,"y":-0.02},{"x":253,"y":0.01},{"x":254,"y":-0.09},{"x":255,"y":-0.17},{"x":256,"y":-0.11},{"x":257,"y":-0.08},{"x":258,"y":0.01},{"x":259,"y":-0.02},{"x":260,"y":0.08},{"x":261,"y":0.03},{"x":262,"y":0.16},{"x":263,"y":0.09},{"x":264,"y":0.01},{"x":265,"y":-0.06},{"x":266,"y":-0.03},{"x":267,"y":-0.05},{"x":268,"y":0.02},{"x":269,"y":0.08},{"x":270,"y":0.01},{"x":271,"y":-0.01},{"x":272,"y":0.05},{"x":273,"y":0.08},{"x":274,"y":0.04},{"x":275,"y":0.17},{"x":276,"y":0.00},{"x":277,"y":0.04},{"x":278,"y":0.05},{"x":279,"y":-0.01},{"x":280,"y":0.07},{"x":281,"y":0.02},{"x":282,"y":0.01},{"x":283,"y":0.03},{"x":284,"y":0.09},{"x":285,"y":0.04},{"x":286,"y":0.13},{"x":287,"y":0.07},{"x":288,"y":0.08},{"x":289,"y":0.00},{"x":290,"y":-0.06},{"x":291,"y":0.01},{"x":292,"y":0.05},{"x":293,"y":0.08},{"x":294,"y":0.04},{"x":295,"y":0.08},{"x":296,"y":-0.10},{"x":297,"y":0.06},{"x":298,"y":0.01},{"x":299,"y":-0.02},{"x":300,"y":0.02},{"x":301,"y":-0.04},{"x":302,"y":-0.01},{"x":303,"y":-0.05},{"x":304,"y":0.05},{"x":305,"y":0.01},{"x":306,"y":0.06},{"x":307,"y":-0.02},{"x":308,"y":0.02},{"x":309,"y":0.05},{"x":310,"y":-0.01},{"x":311,"y":0.05},{"x":312,"y":0.01},{"x":313,"y":-0.06},{"x":314,"y":0.04},{"x":315,"y":-0.14},{"x":316,"y":-0.01},{"x":317,"y":0.05},{"x":318,"y":0.03},{"x":319,"y":0.01},{"x":320,"y":0.06},{"x":321,"y":0.02},{"x":322,"y":0.04},{"x":323,"y":0.06},{"x":324,"y":0.01},{"x":325,"y":-0.02},{"x":326,"y":0.01},{"x":327,"y":-0.03},{"x":328,"y":-0.10},{"x":329,"y":-0.01},{"x":330,"y":0.06},{"x":331,"y":0.02},{"x":332,"y":0.07},{"x":333,"y":-0.04},{"x":334,"y":0.06},{"x":335,"y":0.00},{"x":336,"y":-0.06},{"x":337,"y":0.06},{"x":338,"y":0.01},{"x":339,"y":-0.05},{"x":340,"y":0.08},{"x":341,"y":0.01},{"x":342,"y":-0.04},{"x":343,"y":0.09},{"x":344,"y":0.04},{"x":345,"y":0.06},{"x":346,"y":-0.04},{"x":347,"y":0.01},{"x":348,"y":0.08},{"x":349,"y":0.03},{"x":350,"y":0.07},{"x":351,"y":0.08},{"x":352,"y":0.00},{"x":353,"y":0.03},{"x":354,"y":0.04},{"x":355,"y":0.12},{"x":356,"y":0.06},{"x":357,"y":0.04},{"x":358,"y":0.00},{"x":359,"y":0.03},{"x":360,"y":-0.10},{"x":361,"y":-0.03},{"x":362,"y":0.03},{"x":363,"y":0.07},{"x":364,"y":0.10},{"x":365,"y":0.06},{"x":366,"y":-0.01},{"x":367,"y":-0.04},{"x":368,"y":0.04},{"x":369,"y":0.06},{"x":370,"y":-0.04},{"x":371,"y":0.02},{"x":372,"y":0.01},{"x":373,"y":0.13},{"x":374,"y":-0.04},{"x":375,"y":-0.01},{"x":376,"y":-0.02},{"x":377,"y":-0.04},{"x":378,"y":0.02},{"x":379,"y":0.05},{"x":380,"y":0.00},{"x":381,"y":-0.02},{"x":382,"y":-0.03},{"x":383,"y":-0.02},{"x":384,"y":0.00},{"x":385,"y":-0.03},{"x":386,"y":0.01},{"x":387,"y":0.06},{"x":388,"y":0.03},{"x":389,"y":0.04},{"x":390,"y":-0.03},{"x":391,"y":-0.01},{"x":392,"y":0.04},{"x":393,"y":0.03},{"x":394,"y":0.04},{"x":395,"y":0.13},{"x":396,"y":-0.11},{"x":397,"y":-0.03},{"x":398,"y":0.00},{"x":399,"y":-0.01},{"x":400,"y":0.04},{"x":401,"y":0.02},{"x":402,"y":0.04},{"x":403,"y":0.10},{"x":404,"y":-0.05},{"x":405,"y":0.05},{"x":406,"y":0.07},{"x":407,"y":0.04},{"x":408,"y":-0.02},{"x":409,"y":0.00},{"x":410,"y":0.01},{"x":411,"y":0.03},{"x":412,"y":0.06},{"x":413,"y":0.10},{"x":414,"y":-0.04},{"x":415,"y":0.04},{"x":416,"y":0.01},{"x":417,"y":0.06},{"x":418,"y":-0.06},{"x":419,"y":-0.01},{"x":420,"y":-0.04},{"x":421,"y":-0.06},{"x":422,"y":0.07},{"x":423,"y":0.00},{"x":424,"y":-0.02},{"x":425,"y":0.09},{"x":426,"y":0.01},{"x":427,"y":-0.06},{"x":428,"y":0.10},{"x":429,"y":0.04},{"x":430,"y":-0.01},{"x":431,"y":0.05},{"x":432,"y":0.00},{"x":433,"y":-0.06},{"x":434,"y":0.00},{"x":435,"y":0.02},{"x":436,"y":0.05},{"x":437,"y":0.00},{"x":438,"y":0.01},{"x":439,"y":0.00},{"x":440,"y":0.00},{"x":441,"y":-0.02},{"x":442,"y":0.01},{"x":443,"y":0.05},{"x":444,"y":0.04},{"x":445,"y":0.03},{"x":446,"y":0.09},{"x":447,"y":0.19},{"x":448,"y":0.01},{"x":449,"y":0.04},{"x":450,"y":-0.01},{"x":451,"y":-0.09},{"x":452,"y":0.08},{"x":453,"y":-0.01},{"x":454,"y":-0.09},{"x":455,"y":-0.10},{"x":456,"y":-0.06},{"x":457,"y":-0.02},{"x":458,"y":0.08},{"x":459,"y":0.07},{"x":460,"y":0.11},{"x":461,"y":0.15},{"x":462,"y":0.11},{"x":463,"y":0.05},{"x":464,"y":0.03},{"x":465,"y":0.09},{"x":466,"y":0.04},{"x":467,"y":0.02},{"x":468,"y":-0.02},{"x":469,"y":-0.09},{"x":470,"y":0.01},{"x":471,"y":0.05},{"x":472,"y":0.04},{"x":473,"y":0.09},{"x":474,"y":0.13},{"x":475,"y":0.00},{"x":476,"y":-0.03},{"x":477,"y":-0.06},{"x":478,"y":0.04},{"x":479,"y":0.10},{"x":480,"y":0.05},{"x":481,"y":-0.04},{"x":482,"y":-0.09},{"x":483,"y":0.06},{"x":484,"y":0.00},{"x":485,"y":-0.04},{"x":486,"y":0.07},{"x":487,"y":-0.02},{"x":488,"y":-0.12},{"x":489,"y":0.00},{"x":490,"y":0.03},{"x":491,"y":0.04},{"x":492,"y":0.04},{"x":493,"y":0.21},{"x":494,"y":0.11},{"x":495,"y":0.14},{"x":496,"y":-0.06},{"x":497,"y":0.04},{"x":498,"y":0.11},{"x":499,"y":0.00},{"x":500,"y":0.02},{"x":501,"y":0.04},{"x":502,"y":0.10},{"x":503,"y":0.00},{"x":504,"y":-0.04},{"x":505,"y":0.06},{"x":506,"y":-0.01},{"x":507,"y":-0.09},{"x":508,"y":0.01},{"x":509,"y":0.04},{"x":510,"y":0.09},{"x":511,"y":-0.06},{"x":512,"y":-0.01},{"x":513,"y":0.08},{"x":514,"y":-0.03},{"x":515,"y":0.03},{"x":516,"y":0.08},{"x":517,"y":-0.05},{"x":518,"y":0.05},{"x":519,"y":0.01},{"x":520,"y":-0.01},{"x":521,"y":0.04},{"x":522,"y":0.00},{"x":523,"y":-0.02},{"x":524,"y":0.05},{"x":525,"y":0.01},{"x":526,"y":-0.04},{"x":527,"y":-0.15},{"x":528,"y":-0.06},{"x":529,"y":0.00},{"x":530,"y":-0.04},{"x":531,"y":-0.09},{"x":532,"y":-0.01},{"x":533,"y":-0.05},{"x":534,"y":-0.11},{"x":535,"y":-0.01},{"x":536,"y":-0.07},{"x":537,"y":-0.11},{"x":538,"y":-0.06},{"x":539,"y":-0.01},{"x":540,"y":-0.10},{"x":541,"y":-0.01},{"x":542,"y":-0.11},{"x":543,"y":0.07},{"x":544,"y":0.04},{"x":545,"y":0.04},{"x":546,"y":0.08},{"x":547,"y":0.04},{"x":548,"y":0.04},{"x":549,"y":0.09},{"x":550,"y":0.00},{"x":551,"y":-0.01},{"x":552,"y":-0.04},{"x":553,"y":-0.08},{"x":554,"y":-0.01},{"x":555,"y":0.11},{"x":556,"y":0.04},{"x":557,"y":0.12},{"x":558,"y":0.07},{"x":559,"y":0.04},{"x":560,"y":-0.05},{"x":561,"y":0.15},{"x":562,"y":0.07},{"x":563,"y":0.04},{"x":564,"y":0.10},{"x":565,"y":0.03},{"x":566,"y":-0.06},{"x":567,"y":0.03},{"x":568,"y":0.08},{"x":569,"y":0.15},{"x":570,"y":0.04},{"x":571,"y":-0.01},{"x":572,"y":0.05},{"x":573,"y":0.10},{"x":574,"y":0.00},{"x":575,"y":0.04},{"x":576,"y":0.07},{"x":577,"y":-0.01},{"x":578,"y":0.04},{"x":579,"y":0.17},{"x":580,"y":-0.06},{"x":581,"y":-0.13},{"x":582,"y":0.09},{"x":583,"y":0.04},{"x":584,"y":0.03},{"x":585,"y":0.00},{"x":586,"y":0.04},{"x":587,"y":-0.01},{"x":588,"y":-0.15},{"x":589,"y":-0.01},{"x":590,"y":0.04},{"x":591,"y":0.09},{"x":592,"y":-0.07},{"x":593,"y":-0.08},{"x":594,"y":0.05},{"x":595,"y":0.06},{"x":596,"y":0.01},{"x":597,"y":0.04},{"x":598,"y":0.00},{"x":599,"y":0.11},{"x":600,"y":0.07}]},
"vconcat":[
{"title":{"text":"R-R Interval","offset":-8},"width":884,"height":130,"data":{"name":"rr"},
"layer":[
{"mark":{"type":"line"},"encoding":{"x":{"field":"x","type":"quantitative","scale":{"domain":[1,625],"nice":false,"zero":false},"axis":{"title":"Samples","values":[100,200,300,400,500,600]}},"y":{"field":"y","type":"quantitative","scale":{"domain":[0.095,1],"nice":false,"zero":false},"axis":{"title":"Amplitude","titleX":-62,"values":[0.5,1]}}}},
{"mark":{"type":"line","strokeOpacity":0},"encoding":{"x":{"field":"x","type":"quantitative","axis":{"orient":"top","title":null,"labels":false,"values":[100,200,300,400,500,600]}},"y":{"field":"y","type":"quantitative","axis":{"orient":"right","title":null,"labels":false,"values":[0.5,1]}}}}],
"resolve":{"axis":{"x":"independent","y":"independent"}}},
{"title":{"text":"Instantaneous Heart Rate","offset":0},"width":884,"height":130,"data":{"name":"ihr"},
"layer":[
{"mark":{"type":"line"},"encoding":{"x":{"field":"x","type":"quantitative","scale":{"domain":[1,625],"nice":false,"zero":false},"axis":{"title":"Samples","values":[100,200,300,400,500,600]}},"y":{"field":"y","type":"quantitative","scale":{"domain":[2.34,2.72],"nice":false,"zero":false},"axis":{"title":"Amplitude","titleX":-62,"values":[2.4,2.6]}}}},
{"mark":{"type":"line","strokeOpacity":0},"encoding":{"x":{"field":"x","type":"quantitative","axis":{"orient":"top","title":null,"labels":false,"values":[100,200,300,400,500,600]}},"y":{"field":"y","type":"quantitative","axis":{"orient":"right","title":null,"labels":false,"values":[2.4,2.6]}}}}],
"resolve":{"axis":{"x":"independent","y":"independent"}}},
{"title":{"text":"Heart Rate Variability","offset":1},"width":884,"height":130,"data":{"name":"hrv"},
"layer":[
{"mark":{"type":"line"},"encoding":{"x":{"field":"x","type":"quantitative","scale":{"domain":[2,600],"nice":false,"zero":false},"axis":{"title":"Time (s)","titleY":75,"values":[100,200,300,400,500,600]}},"y":{"field":"y","type":"quantitative","scale":{"domain":[-0.345,0.335],"nice":false,"zero":false},"axis":{"title":"Amplitude","titleX":-72,"values":[-0.2,0,0.2]}}}},
{"mark":{"type":"line","strokeOpacity":0},"encoding":{"x":{"field":"x","type":"quantitative","axis":{"orient":"top","title":null,"labels":false,"values":[100,200,300,400,500,600]}},"y":{"field":"y","type":"quantitative","axis":{"orient":"right","title":null,"labels":false,"values":[-0.2,0,0.2]}}}}],
"resolve":{"axis":{"x":"independent","y":"independent"}}}
]}
